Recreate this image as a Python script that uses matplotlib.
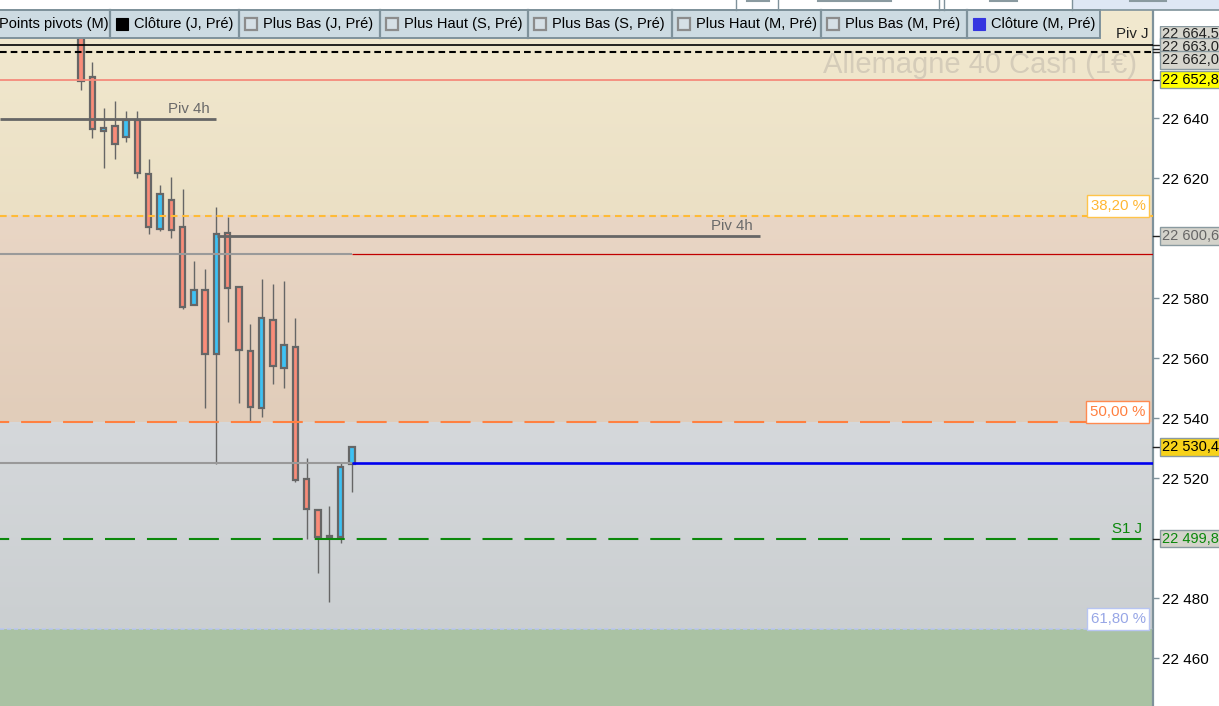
import matplotlib
matplotlib.use('Agg')
import matplotlib.pyplot as plt
import matplotlib.transforms as mtransforms
from matplotlib.patches import Rectangle
from matplotlib.colors import to_rgb
import numpy as np

plt.rcParams['font.family'] = ['Liberation Sans', 'DejaVu Sans']
plt.rcParams['lines.scale_dashes'] = False

# ---------------- data ----------------
opens = [22672.0, 22653.6, 22635.6, 22637.2, 22633.6, 22639.2, 22621.2, 22603.1, 22612.6, 22603.6,
         22577.6, 22582.6, 22561.2, 22601.6, 22583.6, 22562.2, 22543.2, 22572.6, 22556.6, 22563.6,
         22519.6, 22509.2, 22500.6, 22500.2, 22524.6]
highs = [22680.0, 22658.8, 22643.2, 22645.7, 22642.3, 22642.3, 22626.3, 22617.7, 22620.3, 22616.3,
         22592.3, 22589.7, 22610.3, 22607.0, 22583.6, 22571.3, 22586.3, 22584.7, 22585.7, 22573.3,
         22526.7, 22509.8, 22510.7, 22524.9, 22530.7]
lows = [22649.3, 22633.4, 22623.4, 22626.2, 22632.1, 22620.1, 22601.2, 22602.4, 22600.1, 22576.2,
        22577.6, 22543.4, 22524.6, 22572.1, 22545.1, 22539.0, 22540.4, 22551.4, 22550.1, 22518.6,
        22499.6, 22488.4, 22478.8, 22498.4, 22515.4]
closes = [22652.4, 22636.2, 22636.6, 22631.2, 22639.2, 22621.6, 22603.6, 22614.6, 22602.6, 22577.1,
          22582.6, 22561.2, 22601.3, 22583.2, 22562.6, 22543.6, 22573.2, 22557.2, 22564.2, 22519.2,
          22509.6, 22500.2, 22500.4, 22523.6, 22530.4]

piv_j = 22664.5
close_j_prev = 22662.0
hidden_level = 22663.0
high_level = 22652.8
piv4h_1 = 22639.6
piv4h_2 = 22600.6
level_red = 22594.6
fib_382 = 22607.4
fib_50 = 22538.6
fib_618 = 22469.6
close_m_prev = 22525.1
s1_j = 22499.8
last_price = 22530.4

y_ticks = [22460, 22480, 22520, 22540, 22560, 22580, 22620, 22640]

legend_labels = ['Points pivots (M)', 'Clôture (J, Pré)', 'Plus Bas (J, Pré)', 'Plus Haut (S, Pré)',
                 'Plus Bas (S, Pré)', 'Plus Haut (M, Pré)', 'Plus Bas (M, Pré)', 'Clôture (M, Pré)']
legend_swatch = [None, '#000000', 'hollow', 'hollow', 'hollow', 'hollow', 'hollow', '#3535e0']

watermark = 'Allemagne 40 Cash (1€)'

# ---------------- figure ----------------
W, H = 1219, 706
fig = plt.figure(figsize=(W / 100, H / 100), dpi=100)
fig.patch.set_facecolor('white')

PLOT_R, PLOT_T = 1153, 10
ax = fig.add_axes([0, 0, PLOT_R / W, (H - PLOT_T) / H])
y_lo, y_hi = 22444.0, 22676.0
x_lo, x_hi = -7.17, 94.95


def grad(y0, y1, c_top, c_bot):
    t = np.linspace(0, 1, 64)[:, None]
    ct, cb = np.array(to_rgb(c_top)), np.array(to_rgb(c_bot))
    img = (ct * (1 - t) + cb * t)[:, None, :]
    ax.imshow(img, extent=[x_lo, x_hi, y0, y1], origin='upper', aspect='auto',
              zorder=0, interpolation='bilinear')


grad(fib_382, y_hi, '#f2e9cf', '#ebe0c5')
grad(fib_50, fib_382, '#e9d6c5', '#e1cdba')
grad(fib_618, fib_50, '#d5d8db', '#cbcfd1')
grad(y_lo, fib_618, '#abc3a5', '#aac2a3')

# candles
xs = np.arange(len(opens))
o, h, l, c = map(np.array, (opens, highs, lows, closes))
up = c >= o
cols = np.where(up, '#3ec2f4', '#f98c79')
ax.vlines(xs, l, h, color='#666666', lw=1.0, zorder=2)
bottoms = np.minimum(o, c)
heights = np.maximum(np.abs(c - o), 0.3)
ax.bar(xs, heights, bottom=bottoms, width=0.48, color=cols, edgecolor='#666666',
       linewidth=1.6, zorder=2.5)

# horizontal levels
ax.axhline(piv_j, color='black', lw=1.2, zorder=3)
ax.axhline(close_j_prev, color='black', lw=1.5, ls=(0, (4.8, 2.9)), zorder=3)
ax.axhline(high_level, color='#f58b7c', lw=1.3, zorder=3)
ax.hlines(piv4h_1, x_lo, 11.96, color='#666666', lw=2.0, zorder=3)
ax.hlines(piv4h_2, 12.05, 60.1, color='#666666', lw=2.0, zorder=3)
ax.hlines(level_red, x_lo, 24.0, color='#9a9a9a', lw=1.5, zorder=3)
ax.hlines(level_red, 24.0, x_hi, color='#c00000', lw=0.9, zorder=3)
ax.axhline(fib_382, color='#ffbb36', lw=1.5, ls=(0, (4.8, 3.4)), zorder=3)
ax.axhline(fib_50, color='#ff8040', lw=1.5, ls=(15, (21.6, 8.6)), zorder=3)
ax.axhline(fib_618, color='#b8c5f2', lw=1.1, ls=(0, (3, 2)), zorder=3)
ax.hlines(close_m_prev, x_lo, 24.0, color='#999999', lw=1.5, zorder=3)
ax.hlines(close_m_prev, 24.0, x_hi, color='#0000ee', lw=1.9, zorder=3)
ax.axhline(s1_j, color='#0b880b', lw=1.5, ls=(15, (21.6, 8.6)), zorder=3)

ax.set_xlim(x_lo, x_hi)
ax.set_ylim(y_lo, y_hi)

# inline labels
ax.annotate('Piv 4h', xy=(11.4, piv4h_1), xytext=(0, 10), textcoords='offset pixels',
            ha='right', va='center', color='#6a6a6a', fontsize=10.8, zorder=4)
ax.annotate('Piv 4h', xy=(59.5, piv4h_2), xytext=(0, 10), textcoords='offset pixels',
            ha='right', va='center', color='#6a6a6a', fontsize=10.8, zorder=4)

bt = mtransforms.blended_transform_factory(ax.transAxes, ax.transData)
ax.annotate('Piv J', xy=(0.9957, piv_j), xycoords=bt, xytext=(0, 11), textcoords='offset pixels',
            ha='right', va='center', color='#222222', fontsize=10.8, zorder=4)
ax.annotate('S1 J', xy=(0.9905, s1_j), xycoords=bt, xytext=(0, 10), textcoords='offset pixels',
            ha='right', va='center', color='#0b880b', fontsize=10.8, zorder=4)

for val, txt, col, edge in [(fib_382, '38,20 %', '#ffb733', '#ffc44a'),
                            (fib_50, '50,00 %', '#ff7f3f', '#ff8a50'),
                            (fib_618, '61,80 %', '#97a6e6', '#b8c5f2')]:
    ax.annotate(txt, xy=(0.9935, val), xycoords=bt, xytext=(0, 10), textcoords='offset pixels',
                ha='right', va='center', color=col, fontsize=10.8, zorder=4,
                bbox=dict(boxstyle='square,pad=0.25', fc='white', ec=edge, lw=1.0))

ax.text(0.986, 0.921, watermark, transform=ax.transAxes, ha='right', va='center',
        fontsize=21, color='#d5ccb9', zorder=1)

# right axis
for sp in ('top', 'left', 'bottom'):
    ax.spines[sp].set_visible(False)
ax.spines['right'].set_color('#7f929b')
ax.spines['right'].set_linewidth(1.6)
ax.set_xticks([])
ax.yaxis.tick_right()
ax.set_yticks(y_ticks)
ax.set_yticklabels([f'{v // 1000} {v % 1000:03d}' for v in y_ticks])
ax.tick_params(axis='y', length=4, width=1, color='#7f929b', labelsize=11, pad=2.5,
               labelcolor='black')


def fmt(v):
    s = f'{v:.1f}'
    ip, dp = s.split('.')
    return f'{ip[:-3]} {ip[-3:]},{dp}'


value_boxes = [(piv_j, 10, '#d6d5cd', '#222222'),
               (hidden_level, 2, '#d6d5cd', '#222222'),
               (close_j_prev, -8, '#d6d5cd', '#222222'),
               (high_level, 0, '#ffff00', '#000000'),
               (piv4h_2, 0, '#d4d3cb', '#666666'),
               (last_price, 0, '#f7d21a', '#000000'),
               (s1_j, 0, '#d4d3cb', '#0b880b')]
for val, off, fc, tc in value_boxes:
    ax.plot([1.0, 1.006], [val, val], transform=bt, color='#222222', lw=1, clip_on=False, zorder=5)
    ax.annotate(fmt(val), xy=(1.0075, val), xycoords=bt, xytext=(0, off),
                textcoords='offset pixels', ha='left', va='center', color=tc,
                fontsize=10.5, zorder=5, annotation_clip=False,
                bbox=dict(boxstyle='square,pad=0.12', fc=fc, ec='#8a9aa0', lw=1.0))

# ---------------- overlay (UI chrome) ----------------
ov = fig.add_axes([0, 0, 1, 1], zorder=10)
ov.set_xlim(0, W)
ov.set_ylim(H, 0)
ov.axis('off')
ov.patch.set_alpha(0)

ov.add_patch(Rectangle((1156, 10.8), 63, 15, fc='white', ec='none'))
ov.add_patch(Rectangle((1073, 0), 146, 10, fc='#dee7f4', ec='none'))
ov.plot([0, W], [10, 10], color='#7f929b', lw=1.2)
for sx in [736, 778, 939, 944, 1072]:
    ov.plot([sx, sx], [0, 10], color='#7f929b', lw=1.0)
for x0, x1 in [(747, 769), (818, 891), (990, 1017), (1130, 1166)]:
    ov.plot([x0, x1], [0.6, 0.6], color='#8a9aa0', lw=1.5)

ov.add_patch(Rectangle((-3, 10), 1103, 27.5, fc='#cddbe2', ec='#7f929b', lw=1.4))
seps = [-3, 110, 239, 380, 528, 672, 821, 967, 1100]
for sx in seps[1:-1]:
    ov.plot([sx, sx], [10, 37.5], color='#7f929b', lw=1.6)
for i, (lab, sw) in enumerate(zip(legend_labels, legend_swatch)):
    sx = seps[i]
    if sw is None:
        ov.text(-1, 24, lab, ha='left', va='center', fontsize=10.5, color='black')
        continue
    if sw == 'hollow':
        ov.add_patch(Rectangle((sx + 6, 17.5), 12, 12, fc='#d6e0e6', ec='#8c8c8c', lw=1.6))
    else:
        ov.add_patch(Rectangle((sx + 6, 17.5), 12, 12, fc=sw, ec=sw, lw=0.8))
    ov.text(sx + 24, 24, lab, ha='left', va='center', fontsize=10.5, color='black')

fig.savefig('out.png', dpi=100, facecolor='white')
